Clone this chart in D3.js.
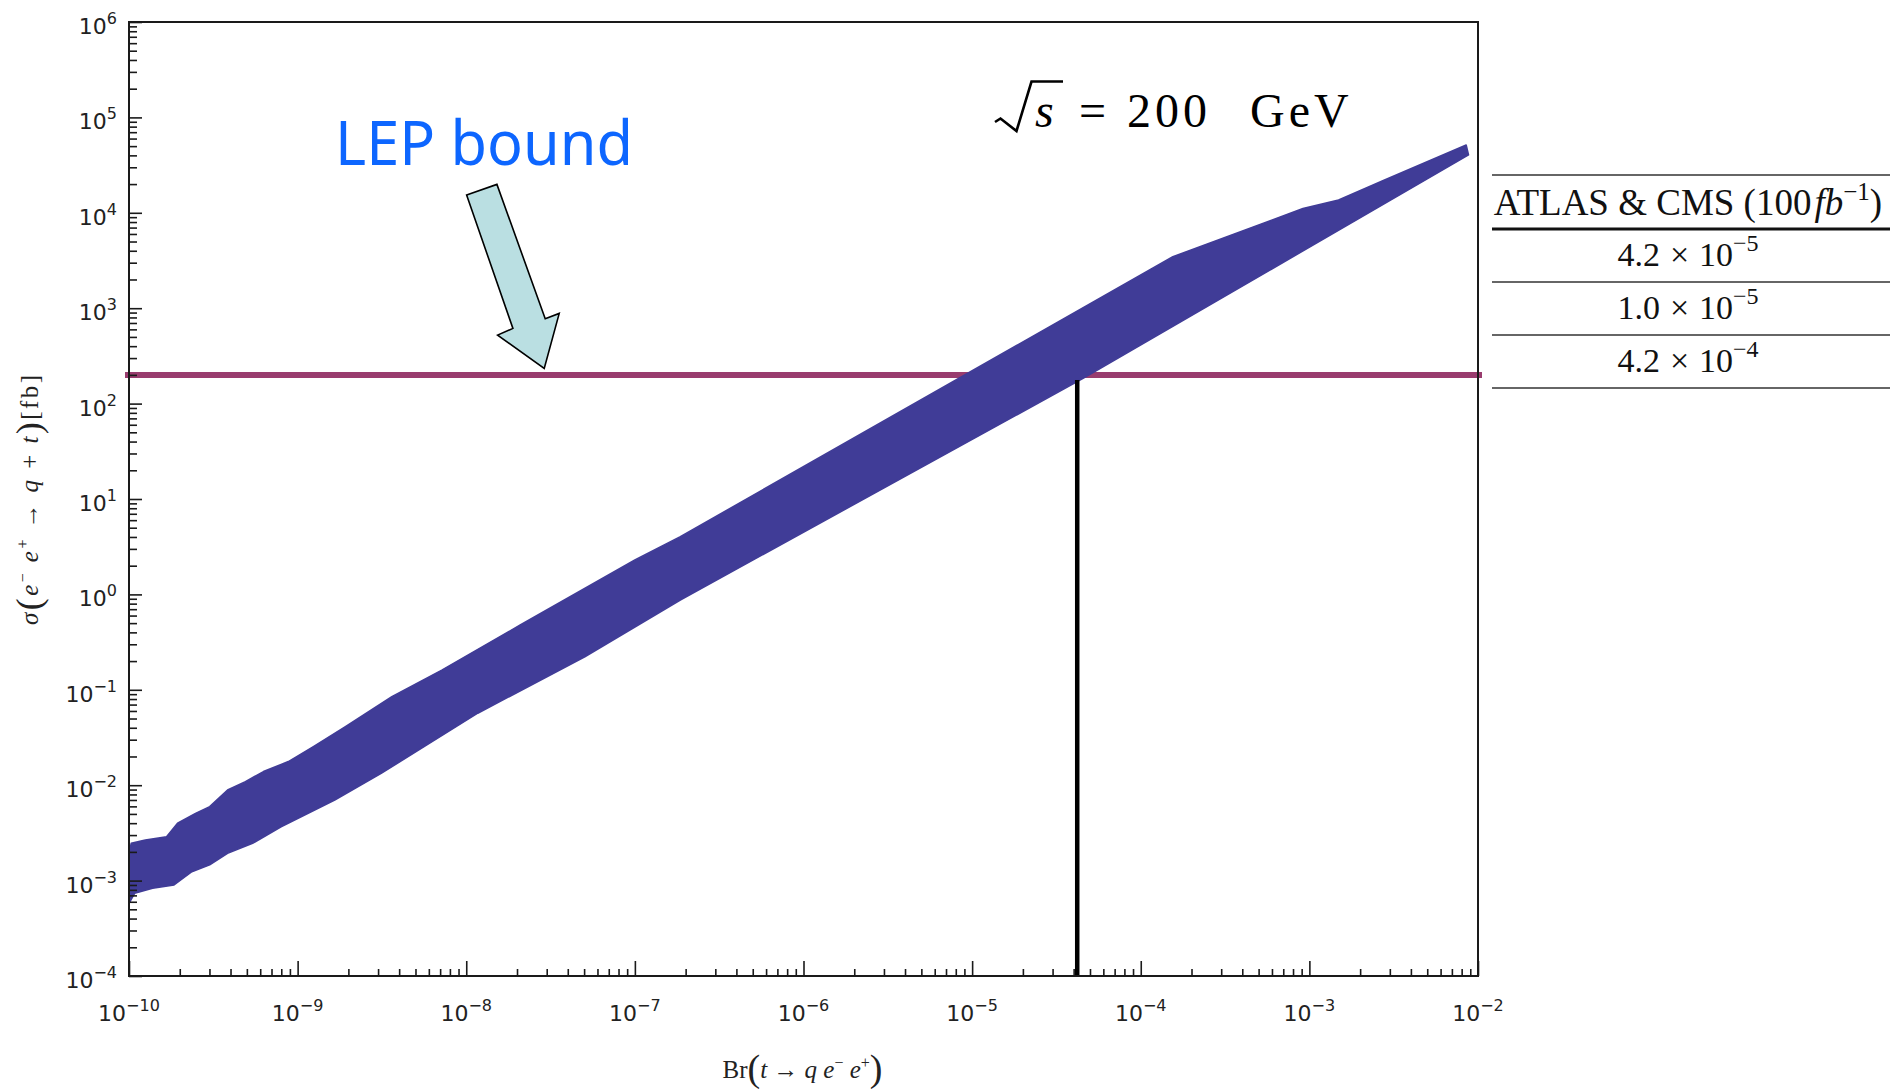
<!DOCTYPE html>
<html>
<head>
<meta charset="utf-8">
<script src="https://cdn.jsdelivr.net/npm/d3@7"></script>
<style>
  html, body { margin: 0; padding: 0; background: #ffffff; }
  svg { display: block; }
</style>
</head>
<body>
<svg id="chart" width="1902" height="1089"></svg>
<script>
// ---- data -------------------------------------------------------------
// decade exponents used for the tick labels
const xDecades = [-10, -9, -8, -7, -6, -5, -4, -3, -2];
const yDecades = [-4, -3, -2, -1, 0, 1, 2, 3, 4, 5, 6];

// upper envelope of the scanned points: Br(t -> q e- e+) and sigma [fb]
const upperBr    = [1.0e-10, 1.03e-10, 1.25e-10, 1.67e-10, 1.94e-10, 2.48e-10, 3.01e-10, 3.84e-10,
                    4.90e-10, 6.27e-10, 8.81e-10, 1.24e-9, 1.92e-9, 3.62e-9, 7.16e-9, 2.09e-8,
                    1.0e-7, 1.86e-7, 1.55e-4, 9.16e-4, 1.49e-3, 2.79e-3, 8.51e-3];
const upperSigma = [1.93e-3, 2.46e-3, 2.67e-3, 2.88e-3, 3.99e-3, 5.07e-3, 5.96e-3, 8.91e-3,
                    1.09e-2, 1.39e-2, 1.77e-2, 2.54e-2, 4.10e-2, 8.47e-2, 0.161, 0.478,
                    2.30, 4.03, 3467, 1.11e4, 1.36e4, 2.21e4, 5.14e4];

// lower envelope of the scanned points
const lowerBr    = [1.0e-10, 1.08e-10, 1.38e-10, 1.85e-10, 2.36e-10, 3.01e-10, 3.84e-10, 5.41e-10,
                    7.98e-10, 1.66e-9, 3.13e-9, 1.17e-8, 5.05e-8, 1.86e-7, 4.58e-5, 8.79e-3];
const lowerSigma = [5.78e-4, 7.36e-4, 8.30e-4, 8.99e-4, 1.24e-3, 1.46e-3, 1.93e-3, 2.46e-3,
                    3.67e-3, 7.00e-3, 1.33e-2, 5.68e-2, 0.222, 0.873, 185, 4.04e4];

// LEP limit on sigma [fb]
const lepSigma = 200;
// Br at which the allowed region leaves the LEP bound
const markerBr = 4.2e-5;

// ATLAS & CMS reach (100 fb^-1)
const reachMantissa = ["4.2", "1.0", "4.2"];
const reachExponent = [-5, -5, -4];

// ---- layout -----------------------------------------------------------
const plot = { left: 129, right: 1478, top: 22, bottom: 976 };
const BAND = "#403c97";
const LEP = "#993c6e";
const AXIS = "#1a1a1a";

const x = d3.scaleLog().domain([1e-10, 1e-2]).range([plot.left, plot.right]);
const y = d3.scaleLog().domain([1e-4, 1e6]).range([plot.bottom, plot.top]);

const svg = d3.select("#chart");
const expText = e => (e < 0 ? "\u2212" + (-e) : String(e));

// ---- LEP bound (drawn under the scan region) --------------------------
svg.append("line")
  .attr("x1", plot.left - 4).attr("x2", plot.right + 4)
  .attr("y1", y(lepSigma)).attr("y2", y(lepSigma))
  .attr("stroke", LEP).attr("stroke-width", 6);

// ---- allowed region ---------------------------------------------------
const outline = upperBr.map((b, i) => [b, upperSigma[i]])
  .concat(lowerBr.map((b, i) => [b, lowerSigma[i]]).reverse());
const line = d3.line().x(d => x(d[0])).y(d => y(d[1]));
svg.append("path")
  .attr("d", line(outline) + "Z")
  .attr("fill", BAND)
  .attr("stroke", BAND)
  .attr("stroke-width", 1.5)
  .attr("stroke-linejoin", "round");

// ---- vertical marker at the reach value -------------------------------
svg.append("line")
  .attr("x1", x(markerBr)).attr("x2", x(markerBr))
  .attr("y1", y(lepSigma) + 5).attr("y2", plot.bottom)
  .attr("stroke", "#000").attr("stroke-width", 4.5);

// ---- frame and ticks --------------------------------------------------
svg.append("rect")
  .attr("x", plot.left).attr("y", plot.top)
  .attr("width", plot.right - plot.left).attr("height", plot.bottom - plot.top)
  .attr("fill", "none").attr("stroke", AXIS).attr("stroke-width", 2);

const xMajor = xDecades.map(e => Math.pow(10, e));
const xMinor = d3.merge(xDecades.slice(0, -1).map(e => d3.range(2, 10).map(k => k * Math.pow(10, e))));
const yMajor = yDecades.map(e => Math.pow(10, e));
const yMinor = d3.merge(yDecades.slice(0, -1).map(e => d3.range(2, 10).map(k => k * Math.pow(10, e))));

const gx = svg.append("g").attr("transform", `translate(0,${plot.bottom})`);
gx.append("g").call(d3.axisBottom(x).tickValues(xMajor).tickSizeInner(-15).tickSizeOuter(0).tickFormat(""));
gx.append("g").call(d3.axisBottom(x).tickValues(xMinor).tickSizeInner(-7).tickSizeOuter(0).tickFormat(""));

const gy = svg.append("g").attr("transform", `translate(${plot.left},0)`);
gy.append("g").call(d3.axisLeft(y).tickValues(yMajor).tickSizeInner(-13).tickSizeOuter(0).tickFormat(""));
gy.append("g").call(d3.axisLeft(y).tickValues(yMinor).tickSizeInner(-8).tickSizeOuter(0).tickFormat(""));

svg.selectAll(".domain").remove();
svg.selectAll(".tick line").attr("stroke", AXIS).attr("stroke-width", 1.6);

// tick labels 10^n
const labelFont = "'DejaVu Sans', sans-serif";
svg.append("g").selectAll("text").data(xDecades).join("text")
  .attr("x", d => x(Math.pow(10, d)))
  .attr("y", plot.bottom + 45)
  .attr("text-anchor", "middle")
  .attr("font-family", labelFont).attr("font-size", 22)
  .attr("fill", "#222")
  .each(function (d) {
    const t = d3.select(this);
    t.append("tspan").text("10");
    t.append("tspan").attr("dy", -10).attr("font-size", 16).text(expText(d));
  });

svg.append("g").selectAll("text").data(yDecades).join("text")
  .attr("x", plot.left - 12)
  .attr("y", d => y(Math.pow(10, d)) + 12)
  .attr("text-anchor", "end")
  .attr("font-family", labelFont).attr("font-size", 22)
  .attr("fill", "#222")
  .each(function (d) {
    const t = d3.select(this);
    t.append("tspan").text("10");
    t.append("tspan").attr("dy", -10).attr("font-size", 16).text(expText(d));
  });

// ---- axis titles ------------------------------------------------------
const serif = "'Liberation Serif', 'Times New Roman', serif";

const xt = svg.append("text")
  .attr("x", (plot.left + plot.right) / 2 - 1)
  .attr("y", plot.bottom + 102)
  .attr("text-anchor", "middle")
  .attr("font-family", serif).attr("font-size", 25).attr("fill", "#222");
xt.append("tspan").text("Br");
xt.append("tspan").attr("font-size", 38).attr("dy", 3).text("(");
xt.append("tspan").attr("font-style", "italic").attr("dy", -3).text("t ");
xt.append("tspan").text("\u2192 ");
xt.append("tspan").attr("font-style", "italic").text("q e");
xt.append("tspan").attr("font-size", 16).attr("dy", -10).text("\u2212");
xt.append("tspan").attr("font-style", "italic").attr("dy", 10).text(" e");
xt.append("tspan").attr("font-size", 16).attr("dy", -10).text("+");
xt.append("tspan").attr("font-size", 38).attr("dy", 13).text(")");

const yt = svg.append("text")
  .attr("transform", `translate(38,500) rotate(-90)`)
  .attr("text-anchor", "middle")
  .attr("font-family", serif).attr("font-size", 25).attr("fill", "#222")
  .attr("textLength", 250).attr("lengthAdjust", "spacing");
yt.append("tspan").attr("font-style", "italic").text("\u03c3");
yt.append("tspan").attr("font-size", 36).attr("dy", 3).text("(");
yt.append("tspan").attr("font-style", "italic").attr("dy", -3).text("e");
yt.append("tspan").attr("font-size", 16).attr("dy", -10).text("\u2212");
yt.append("tspan").attr("font-style", "italic").attr("dy", 10).text(" e");
yt.append("tspan").attr("font-size", 16).attr("dy", -10).text("+");
yt.append("tspan").attr("dy", 10).text(" \u2192 ");
yt.append("tspan").attr("font-style", "italic").text("q");
yt.append("tspan").text(" + ");
yt.append("tspan").attr("font-style", "italic").text("t");
yt.append("tspan").attr("font-size", 36).attr("dy", 3).text(")");
yt.append("tspan").attr("dy", -3).text("[fb]");

// ---- centre-of-mass energy --------------------------------------------
const ex = 995, ey = 127;
svg.append("path")
  .attr("d", `M${ex},${ey - 5} L${ex + 5.5},${ey - 8.5} L${ex + 21.5},${ey + 4} L${ex + 36.5},${ey - 45.5} L${ex + 68},${ey - 45.5}`)
  .attr("fill", "none").attr("stroke", "#000").attr("stroke-width", 2.6)
  .attr("stroke-linejoin", "miter");
const et = svg.append("text")
  .attr("y", ey)
  .attr("font-family", serif).attr("font-size", 48).attr("fill", "#000");
et.append("tspan").attr("x", ex + 40).attr("font-style", "italic").text("s");
et.append("tspan").attr("x", ex + 84).text("=");
et.append("tspan").attr("x", ex + 132).attr("letter-spacing", 4).text("200");
et.append("tspan").attr("x", ex + 255).attr("letter-spacing", 4).text("GeV");

// ---- LEP annotation ---------------------------------------------------
svg.append("text")
  .attr("x", 335).attr("y", 165)
  .attr("font-family", "'Noto Sans', sans-serif").attr("font-size", 62)
  .attr("textLength", 298).attr("lengthAdjust", "spacingAndGlyphs")
  .attr("fill", "#0d66ff")
  .text("LEP bound");

const tipX = x(2.9e-8), tipY = y(lepSigma) - 6.5;
const arrowShape = [[-77.6, -173.3], [-47.3, -184], [1, -49.6], [15, -55], [0, 0], [-46.6, -33.3], [-31.3, -40]];
svg.append("polygon")
  .attr("points", arrowShape.map(p => `${tipX + p[0]},${tipY + p[1]}`).join(" "))
  .attr("fill", "#badfe2").attr("stroke", "#000").attr("stroke-width", 1.6)
  .attr("stroke-linejoin", "miter");

// ---- reach table ------------------------------------------------------
const tbl = { x0: 1492, x1: 1890, cx: 1688, top: 175, head: 229, rowH: 53 };
const g = svg.append("g").attr("font-family", serif).attr("fill", "#111");

g.append("line").attr("x1", tbl.x0).attr("x2", tbl.x1).attr("y1", tbl.top).attr("y2", tbl.top)
  .attr("stroke", "#333").attr("stroke-width", 1.6);
g.append("line").attr("x1", tbl.x0).attr("x2", tbl.x1).attr("y1", tbl.head).attr("y2", tbl.head)
  .attr("stroke", "#111").attr("stroke-width", 3.2);

const ht = g.append("text").attr("x", tbl.cx).attr("y", tbl.head - 14)
  .attr("text-anchor", "middle").attr("font-size", 37);
ht.append("tspan").text("ATLAS & CMS (100");
ht.append("tspan").attr("font-style", "italic").attr("dx", 3).text("fb");
ht.append("tspan").attr("font-size", 25).attr("dy", -15).text("\u22121");
ht.append("tspan").attr("dy", 15).text(")");

reachMantissa.forEach((m, i) => {
  const base = tbl.head + i * tbl.rowH + 37;
  const t = g.append("text").attr("x", tbl.cx).attr("y", base)
    .attr("text-anchor", "middle").attr("font-size", 34);
  t.append("tspan").text(m);
  t.append("tspan").attr("dx", 10).text("\u00d7");
  t.append("tspan").attr("dx", 10).text("10");
  t.append("tspan").attr("font-size", 24).attr("dy", -15).text(expText(reachExponent[i]));
  g.append("line").attr("x1", tbl.x0).attr("x2", tbl.x1)
    .attr("y1", tbl.head + (i + 1) * tbl.rowH).attr("y2", tbl.head + (i + 1) * tbl.rowH)
    .attr("stroke", "#333").attr("stroke-width", 1.6);
});
</script>
</body>
</html>
